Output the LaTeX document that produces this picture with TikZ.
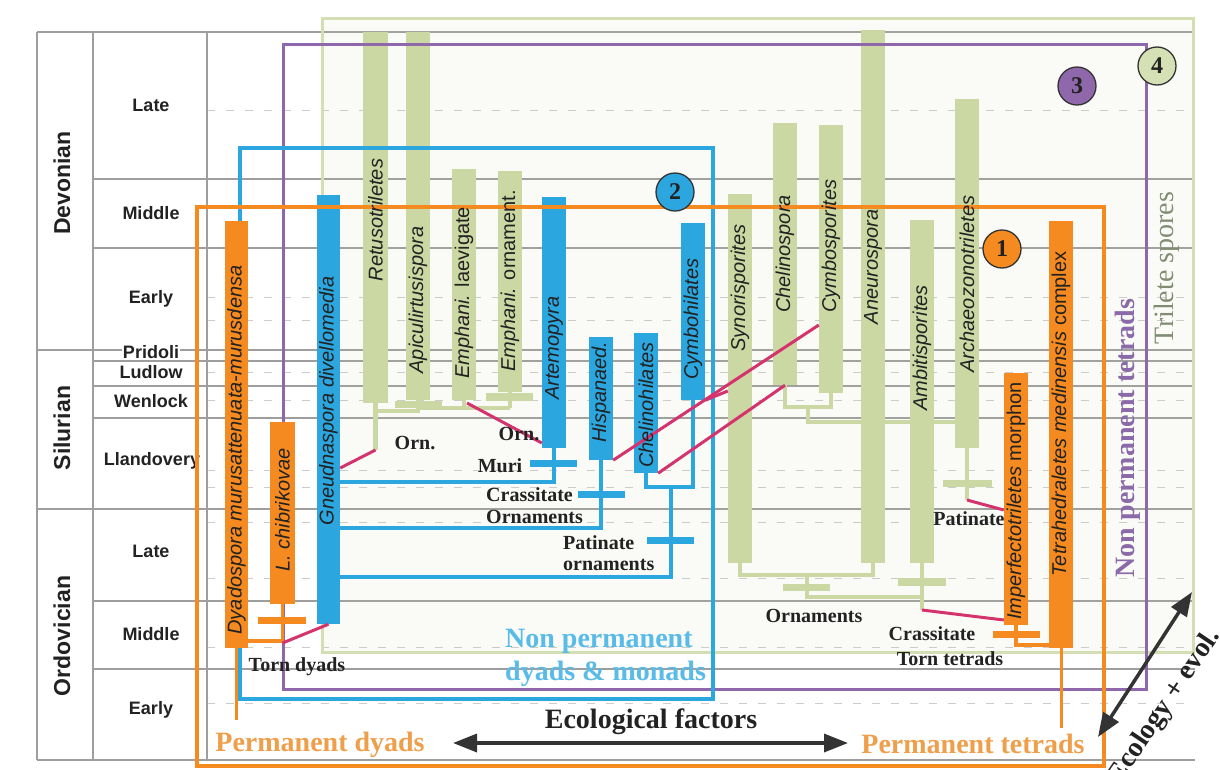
\documentclass[tikz,border=0pt]{standalone}
\usepackage{fontspec}
\setmainfont{Liberation Serif}
\setsansfont{Liberation Sans}
\usetikzlibrary{fit,arrows.meta}
\definecolor{gridc}{HTML}{9E9E9E}
\definecolor{dashc}{HTML}{CCCCCC}
\definecolor{cO}{HTML}{F58A20}
\definecolor{cOt}{HTML}{EF9E4A}
\definecolor{cB}{HTML}{2CA6DF}
\definecolor{cBt}{HTML}{58BBE8}
\definecolor{cG}{HTML}{CBD8A3}
\definecolor{cGbox}{HTML}{D3DFB2}
\definecolor{cP}{HTML}{8E68AA}
\definecolor{cPt}{HTML}{8A6AA8}
\definecolor{cPk}{HTML}{D5336D}
\definecolor{cT}{HTML}{808D72}
\definecolor{ink}{HTML}{222222}
\definecolor{arrc}{HTML}{333333}
\begin{document}
\begin{tikzpicture}[x=1pt,y=-1pt,
  gridl/.style={draw=gridc,line width=2.6pt},
  dashl/.style={draw=dashc,line width=1pt,dash pattern=on 8pt off 11pt},
  gbar/.style={fill=cG,draw=none,inner sep=0pt},
  bbar/.style={fill=cB,draw=none,inner sep=0pt},
  obar/.style={fill=cO,draw=none,inner sep=0pt},
  tax/.style={font=\sffamily\itshape\fontsize{20}{22}\selectfont,text=ink,rotate=90,inner sep=0pt},
  lab/.style={font=\rmfamily\bfseries\fontsize{20}{22}\selectfont,text=ink,inner sep=0pt},
  epoch/.style={font=\sffamily\bfseries\fontsize{18}{20}\selectfont,text=ink,inner sep=0pt},
  period/.style={font=\sffamily\bfseries\fontsize{23}{24}\selectfont,text=ink,rotate=90,inner sep=0pt},
  big/.style={font=\rmfamily\bfseries\fontsize{28}{33}\selectfont,inner sep=0pt},
  gln/.style={draw=cG,line width=4.5pt},
  bln/.style={draw=cB,line width=3.5pt},
  oln/.style={draw=cO,line width=3.5pt},
  pk/.style={draw=cPk,line width=3pt},
  boxl/.style={draw=#1,fill=none,inner sep=0pt},
  numc/.style={circle,draw=arrc,line width=1.3pt,minimum size=38pt,inner sep=0pt,
    font=\rmfamily\bfseries\fontsize{24}{24}\selectfont,text=ink},
  twoarrow/.style={draw=arrc,line width=3.5pt,
    {Triangle[length=24pt,width=18pt]}-{Triangle[length=24pt,width=18pt]}},
]
\useasboundingbox (0,0) rectangle (1220,769);
\fill[white] (0,0) rectangle (1220,769);

% ---------- grid ----------
\foreach \yy in {110,297,320,372,400,470,487,522,578,647,703}
  \draw[dashl] (207,\yy) -- (1195,\yy);
\foreach \yy in {179,248,361,386,418,601,669}
  \draw[gridl] (93,\yy) -- (1195,\yy);
\foreach \yy in {32,350,509,760}
  \draw[gridl] (37,\yy) -- (1195,\yy);
\draw[gridl] (37,32) -- (37,760);
\draw[gridl] (93,32) -- (93,760);
\draw[gridl] (207,32) -- (207,760);

% ---------- time scale labels ----------
\node[period] (pdev) at (62,183) {Devonian};
\node[period] (psil) at (62,428) {Silurian};
\node[period] (pord) at (62,636) {Ordovician};
\node[epoch] (e1) at (151,105) {Late};
\node[epoch] (e2) at (151,213) {Middle};
\node[epoch] (e3) at (151,299) {Early};
\node[epoch,fill=white,inner sep=1pt] (e4) at (151,352) {Pridoli};
\node[epoch] (e5) at (151,372) {Ludlow};
\node[epoch] (e6) at (151,401) {Wenlock};
\node[epoch] (e7) at (152,461) {Llandovery};
\node[epoch] (e8) at (151,551) {Late};
\node[epoch] (e9) at (151,634) {Middle};
\node[epoch] (e10) at (151,710) {Early};

% ---------- box 4 (trilete spores) ----------
\node[boxl=cGbox,line width=3pt,fill=cG,fill opacity=0.08,fit={(322,18) (1193,652)}] (box4) {};

% ---------- green bars ----------
\node[gbar,fit={(363,32) (388,403)}] (retu) {};
\node[gbar,fit={(406,32) (430,400)}] (apic) {};
\node[gbar,fit={(452,169) (476,400)}] (emla) {};
\node[gbar,fit={(498,171) (522,392)}] (emor) {};
\node[gbar,fit={(728,194) (752,563)}] (syno) {};
\node[gbar,fit={(773,123) (797,385)}] (chel) {};
\node[gbar,fit={(819,125) (843,393)}] (cymb) {};
\node[gbar,fit={(861,30) (885,563)}] (aneu) {};
\node[gbar,fit={(910,220) (934,563)}] (ambi) {};
\node[gbar,fit={(955,99) (979,448)}] (arch) {};
\node[gbar,fit={(395,401) (442,408)}] (cbapic) {};
\node[gbar,fit={(486,393) (533,401)}] (cbemor) {};
\node[gbar,fit={(783,584) (830,591)}] (cbsyn) {};
\node[gbar,fit={(898,578) (946,586)}] (cbamb) {};
\node[gbar,fit={(943,480) (992,487)}] (cbarc) {};

% green tree
\draw[gln] (retu.south) -- (375.5,450) coordinate (retuend);
\draw[gln] (apic.south) -- (418,411) -- (375.5,411);
\draw[gln] (emla.south) -- (464,408);
\draw[gln] (emor.south) -- (510,408);
\draw[gln] (418,408) -- (510,408);
\draw[gln] (chel.south) -- (785,407) -- (831,407) -- (cymb.south);
\draw[gln] (808,407) -- (808,422) -- (arch.west |- 0,422);
\draw[gln] (arch.south) -- (967,500) coordinate (archend);
\draw[gln] (syno.south) -- (740,575) -- (873,575) -- (aneu.south);
\draw[gln] (807,575) -- (807,597) -- (922,597);
\draw[gln] (ambi.south) -- (922,610) coordinate (ambiend);

% ---------- box 3 and box 2 ----------
\node[boxl=cP,line width=3pt,fit={(283,44) (1146,689)}] (box3) {};
\node[boxl=cB,line width=3.5pt,fit={(240,148) (713,699)}] (box2) {};

% ---------- blue bars ----------
\node[bbar,fit={(317,195) (340,624)}] (gneu) {};
\node[bbar,fit={(542,197) (566,448)}] (arte) {};
\node[bbar,fit={(589,337) (613,460)}] (hisp) {};
\node[bbar,fit={(634,333) (658,473)}] (chelh) {};
\node[bbar,fit={(681,223) (705,400)}] (cymbh) {};
\node[bbar,fit={(530,460) (577,467)}] (cbarte) {};
\node[bbar,fit={(578,491) (625,498)}] (cbhisp) {};
\node[bbar,fit={(647,537) (694,544)}] (cbchh) {};
\draw[bln] (arte.south) -- (554,482) -- (gneu.east |- 0,482);
\draw[bln] (hisp.south) -- (601,528) -- (gneu.east |- 0,528);
\draw[bln] (chelh.south) -- (646,487) -- (693,487) -- (cymbh.south);
\draw[bln] (671,487) -- (671,577) -- (gneu.east |- 0,577);

% ---------- orange bars ----------
\node[obar,fit={(225,221) (248,648)}] (dyad) {};
\node[obar,fit={(270,422) (295,604)}] (lchi) {};
\node[obar,fit={(1004,373) (1028,625)}] (impe) {};
\node[obar,fit={(1049,221) (1073,648)}] (tetr) {};
\node[obar,fit={(258,617) (306,624)}] (cblchi) {};
\node[obar,fit={(993,631) (1040,638)}] (cbimpe) {};
\draw[oln] (lchi.south) -- (282.5,643) coordinate (tornd);
\draw[oln] (dyad.east |- 0,641) -- (282.5,641);
\draw[oln,line width=3pt] (dyad.south) -- (236.5,720) coordinate (dyadend);
\draw[oln] (impe.south) -- (1016,645) -- (tetr.west |- 0,645);
\draw[oln,line width=3pt] (tetr.south) -- (1061,728) coordinate (tetrend);

% ---------- pink links ----------
\draw[pk] (retuend) -- (gneu.east |- 0,468);
\draw[pk] (467,403) -- (arte.west |- 0,443);
\draw[pk] (hisp.south east) -- (cymb.west |- 0,325);
\draw[pk] (cymbh.south east) -- (syno.west |- 0,391);
\draw[pk] (chelh.south east) -- (chel.south);
\draw[pk] (archend) -- (impe.west |- 0,510);
\draw[pk] (ambiend) -- (impe.west |- 0,620);
\draw[pk] (tornd) -- (gneu.south);

% ---------- box 1 ----------
\node[boxl=cO,line width=4pt,fit={(197,207) (1104,766)}] (box1) {};

% ---------- circles ----------
\node[numc,fill=cO] (n1) at (1002,249) {1};
\node[numc,fill=cB] (n2) at (675,192) {2};
\node[numc,fill=cP] (n3) at (1077,86) {3};
\node[numc,fill=cG!80!white] (n4) at (1157,66) {4};

% ---------- taxon names ----------
\node[tax] (tdyad) at (236.5,450) {Dyadospora murusattenuata-murusdensa};
\node[tax] (tlchi) at (282.5,510) {L. chibrikovae};
\node[tax] (tgneu) at (328.5,401) {Gneudnaspora divellomedia};
\node[tax] (tretu) at (375.5,220) {Retusotriletes};
\node[tax] (tapic) at (418,300) {Apiculirtusispora};
\node[tax] (temla) at (464,293) {Emphani. {\upshape laevigate}};
\node[tax] (temor) at (510,281) {Emphani. {\upshape ornament.}};
\node[tax] (tarte) at (554,348) {Artemopyra};
\node[tax] (thisp) at (601,392) {Hispanaed.};
\node[tax] (tchelh) at (646,405) {Chelinohilates};
\node[tax] (tcymbh) at (693,319) {Cymbohilates};
\node[tax] (tsyno) at (740,288) {Synorisporites};
\node[tax] (tchel) at (785,254) {Chelinospora};
\node[tax] (tcymb) at (831,246) {Cymbosporites};
\node[tax] (taneu) at (873,267) {Aneurospora};
\node[tax] (tambi) at (922,348) {Ambitisporites};
\node[tax] (tarch) at (967,284) {Archaeozonotriletes};
\node[tax] (timpe) at (1016,501) {Imperfectotriletes {\upshape morphon}};
\node[tax] (ttetr) at (1061,414) {Tetrahedraletes medinensis {\upshape complex}};

% ---------- character labels ----------
\node[lab] (lorn1) at (415,443) {Orn.};
\node[lab] (lorn2) at (519,434) {Orn.};
\node[lab] (lmuri) at (500,466) {Muri};
\node[lab,anchor=west] (lcras1) at (486,495) {Crassitate};
\node[lab,anchor=west] (lorn3) at (486,517) {Ornaments};
\node[lab,anchor=west] (lpat1) at (563,543) {Patinate};
\node[lab,anchor=west] (lpat2) at (563,565) {ornaments};
\node[lab] (ltorn) at (297,667) {Torn dyads};
\node[lab] (lorn4) at (814,616) {Ornaments};
\node[lab] (lcras2) at (932,634) {Crassitate};
\node[lab] (ltt) at (950,659) {Torn tetrads};
\node[lab] (lpat3) at (969,519) {Patinate};

% ---------- group names ----------
\node[big,text=cOt] (gdy) at (320,745) {Permanent dyads};
\node[big,text=cOt] (gte) at (973,744) {Permanent tetrads};
\node[big,text=cBt,align=left,anchor=west] (gnp) at (505,658) {Non permanent\\dyads \& monads};
\node[big,text=cPt,rotate=90] (gnpt) at (1128,438) {Non permanent tetrads};
\node[font=\rmfamily\fontsize{28}{30}\selectfont,text=cT,rotate=90,inner sep=0pt] (gtri) at (1167,268) {Trilete spores};

% ---------- arrows ----------
\coordinate (ecoL) at (453,743);
\coordinate (ecoR) at (848,743);
\draw[twoarrow] (ecoL) -- (ecoR);
\node[big,text=ink] (ecol) at (651,722) {Ecological factors};
\coordinate (evA) at (1098,737);
\coordinate (evB) at (1192,592);
\draw[twoarrow] (evA) -- (evB);
\node[big,text=ink,rotate=56] (evl) at (1165,707) {Ecology + evol.};
\end{tikzpicture}
\end{document}
